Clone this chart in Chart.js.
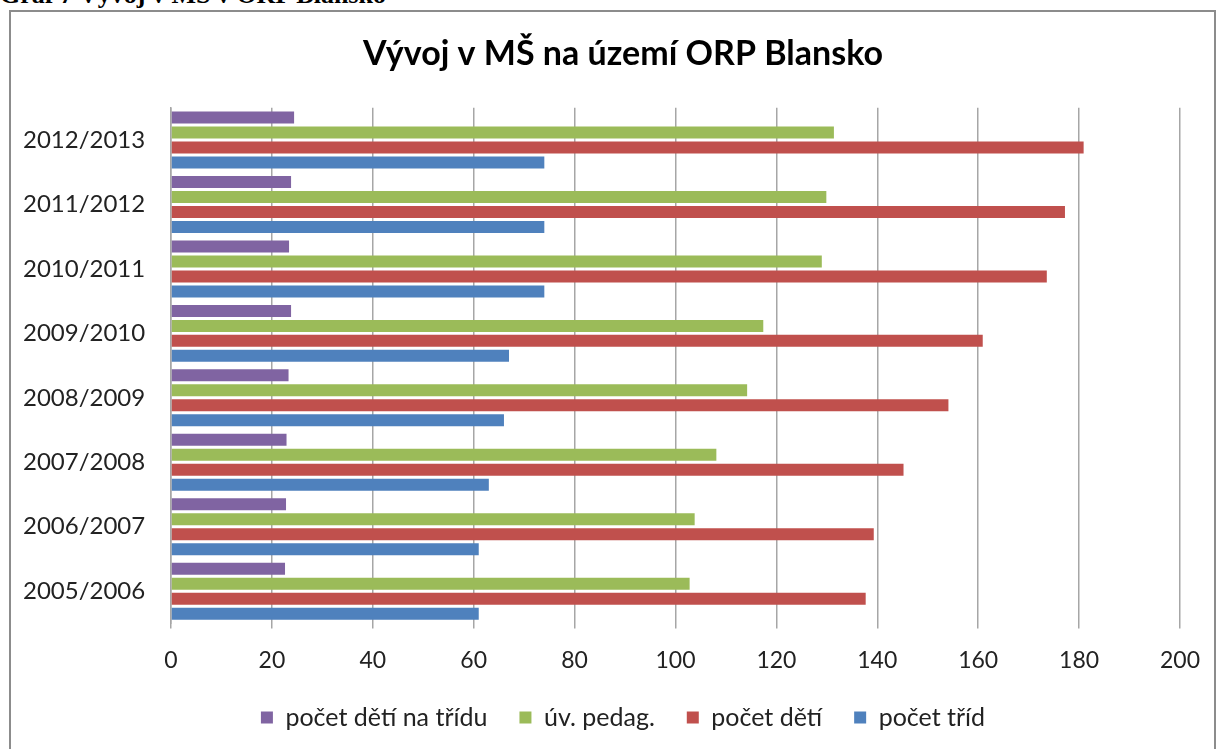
<!DOCTYPE html>
<html>
<head>
<meta charset="utf-8">
<script src="https://cdn.jsdelivr.net/npm/chart.js@4/dist/chart.umd.min.js"></script>
<style>
    html, body { margin: 0; padding: 0; background: #fff; overflow: hidden; }
    #page { position: relative; width: 1218px; height: 749px; overflow: hidden; }
    #caption {
        position: absolute; left: 0; top: -18px;
        font: bold 26px "Liberation Serif", serif; line-height: 26px;
        color: #000; white-space: nowrap;
    }
    #frame {
        position: absolute; left: 9px; top: 10px; width: 1203px; height: 760px;
        border: 2px solid #8c8c8c;
    }
    canvas { position: absolute; left: 0; top: 0; }
</style>
</head>
<body>
<div id="page">
    <div id="caption">Graf 7 Vývoj v MŠ v ORP Blansko</div>
    <div id="frame"></div>
    <canvas id="chartMS" width="1218" height="740"></canvas>
</div>

<script>
/* ------------------------------------------------------------
   Data
   ------------------------------------------------------------ */
const years = ["2005/2006", "2006/2007", "2007/2008", "2008/2009",
               "2009/2010", "2010/2011", "2011/2012", "2012/2013"];
const detiNaTridu = [22.6, 22.8, 22.9, 23.3, 23.8, 23.4, 23.8, 24.4];
const uvPedag     = [102.8, 103.8, 108.1, 114.2, 117.4, 129.0, 129.9, 131.4];
const pocetDeti   = [137.7, 139.3, 145.2, 154.1, 160.9, 173.6, 177.2, 180.9];
const pocetTrid   = [61, 61, 63, 66, 67, 74, 74, 74];
const xTicks      = [0, 20, 40, 60, 80, 100, 120, 140, 160, 180, 200];

const FONT = "Lato, 'Open Sans', sans-serif";
const PAD_LEFT = 64;   // centres title + legend like the original frame
const AXIS_X = 171;    // pixel where the value axis starts

/* ------------------------------------------------------------
   Chart
   ------------------------------------------------------------ */
function renderChart() {
    const ctx = document.getElementById("chartMS");

    new Chart(ctx, {
        type: "bar",
        data: {
            labels: years,
            datasets: [
                { label: "počet dětí na třídu", data: detiNaTridu, backgroundColor: "#8064A2" },
                { label: "úv. pedag.",          data: uvPedag,     backgroundColor: "#9BBB59" },
                { label: "počet dětí",          data: pocetDeti,   backgroundColor: "#C0504D" },
                { label: "počet tříd",          data: pocetTrid,   backgroundColor: "#4F81BD" }
            ]
        },
        options: {
            indexAxis: "y",
            responsive: false,
            animation: false,
            datasets: { bar: { categoryPercentage: 0.93, barPercentage: 0.8 } },
            layout: { padding: { left: PAD_LEFT, right: 36, top: 0, bottom: 0 } },
            plugins: {
                title: {
                    display: true,
                    text: "Vývoj v MŠ na území ORP Blansko",
                    color: "#000",
                    font: { family: FONT, size: 34, weight: "bold" },
                    padding: { top: 34, bottom: 33 }
                },
                legend: {
                    position: "bottom",
                    labels: {
                        color: "#222",
                        font: { family: FONT, size: 25 },
                        boxWidth: 12,
                        boxHeight: 12,
                        padding: 32
                    }
                },
                tooltip: { enabled: false }
            },
            scales: {
                x: {
                    min: 0,
                    max: 200,
                    afterBuildTicks: axis => { axis.ticks = xTicks.map(v => ({ value: v })); },
                    afterFit: axis => { axis.height -= 19; },
                    grid: { color: "#a6a6a6", lineWidth: 1.5, tickLength: 5 },
                    border: { display: false },
                    ticks: { color: "#222", font: { family: FONT, size: 23 }, padding: 18 }
                },
                y: {
                    reverse: true,
                    afterFit: axis => { axis.width = AXIS_X - PAD_LEFT; },
                    grid: { display: false },
                    border: { display: true, color: "#a6a6a6", width: 1.5 },
                    // mirrored so the labels are not clipped to the narrowed axis box
                    ticks: { color: "#222", font: { family: FONT, size: 24 }, mirror: true, padding: 23 - AXIS_X }
                }
            }
        }
    });
}

document.addEventListener("DOMContentLoaded", renderChart);
</script>
</body>
</html>
